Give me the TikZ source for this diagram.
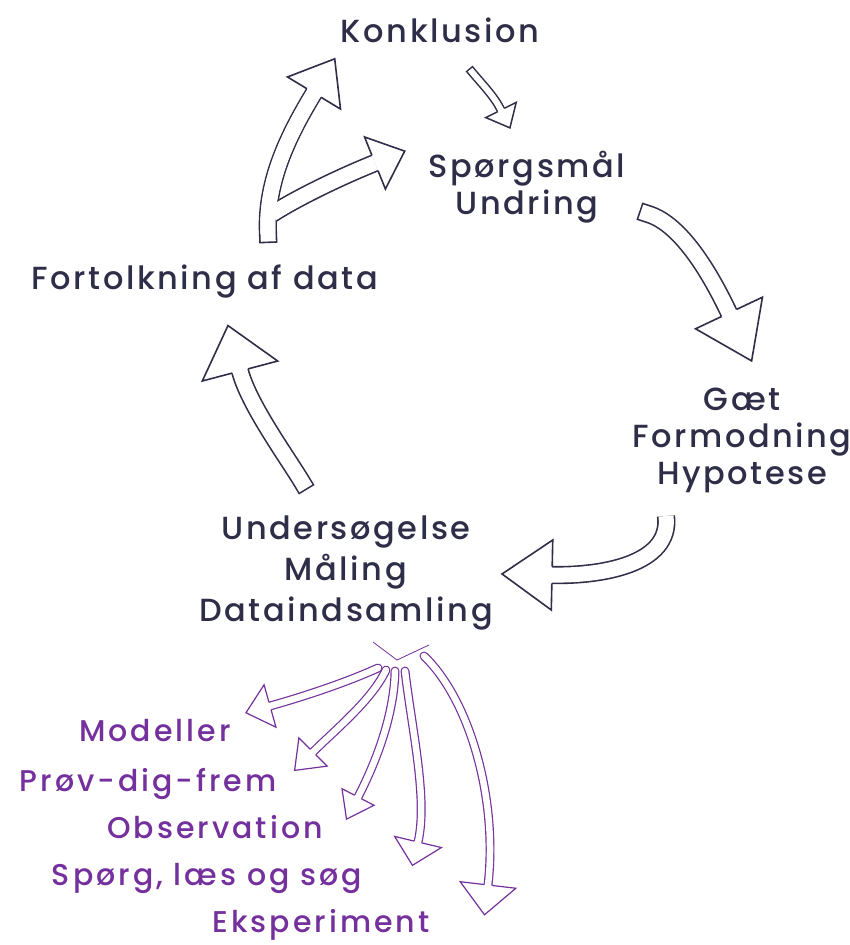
\documentclass[tikz,border=0pt]{standalone}
\usepackage{fontspec}
\IfFontExistsTF{Poppins Medium}{\setmainfont{Poppins Medium}}{\setmainfont{Poppins}[FakeBold=1.2]}
\usepackage{tikz}
\usetikzlibrary{decorations.markings}

\definecolor{ink}{HTML}{2F2E48}
\definecolor{plum}{HTML}{74309C}

\tikzset{
  block-arrow/.style n args={6}{% colour, shaft width, head length, head half width, line width, cap
    preaction={draw=#1, line width=#2+2*#5, line cap=#6},
    draw=white, line width=#2, line cap=#6,
    postaction={decorate, decoration={markings, mark=at position 0.9999 with {
      \fill[white] (0pt,#2/2+#5) -- (0pt,#4) -- (#3,0pt) -- (0pt,-#4) -- (0pt,-#2/2-#5) -- cycle;
      \draw[#1, line width=#5, line cap=butt] (0pt,#2/2+#5/2) -- (0pt,#4) -- (#3,0pt) -- (0pt,-#4) -- (0pt,-#2/2-#5/2);
    }}}
  }
}

\begin{document}
\begin{tikzpicture}[x=1pt, y=-1pt,
        cycle-node/.style={text=ink, font=\fontsize{32}{37}\selectfont\addfontfeatures{LetterSpace=8}, align=center, inner sep=0pt},
        method-node/.style={text=plum, font=\fontsize{30}{32}\selectfont\addfontfeatures{LetterSpace=10}, anchor=base, inner sep=0pt},
        cycle-arrow/.style 2 args={block-arrow={ink}{15pt}{#1}{#2}{1.6pt}{rect}},
        method-arrow/.style 2 args={block-arrow={plum}{6.5pt}{#1}{#2}{1.2pt}{round}},
        core-only/.style={draw=white, line width=15pt}
    ]
        \useasboundingbox[fill=white] (0,0) rectangle (850,945);

        \node[cycle-node] (konkl)   at (440,30)  {Konklusion};
        \node[cycle-node] (spoerg)  at (527,187) {Spørgsmål\\Undring};
        \node[cycle-node] (gaet)    at (742,440) {Gæt\\Formodning\\Hypotese};
        \node[cycle-node] (unders)  at (346,573) {Undersøgelse\\[4pt]Måling\\[4pt]Dataindsamling};
        \node[cycle-node] (fortolk) at (205,281) {Fortolkning af data};

        \node[method-node] (model) at (155,741) {Modeller};
        \node[method-node] (proev) at (148,791) {Prøv-dig-frem};
        \node[method-node] (obs)   at (215,838) {Observation};
        \node[method-node] (laes)  at (207,885) {Spørg, læs og søg};
        \node[method-node] (eksp)  at (321,932) {Eksperiment};

        \coordinate (k-tail) at (472,72);   \coordinate (k-head) at (501,110);
        \coordinate (f-tail) at (268,234);  \coordinate (f-up)   at (314,93);
        \coordinate (f-split) at (272,214); \coordinate (f-right) at (375,163);
        \coordinate (s-tail) at (648,214);  \coordinate (s-head) at (729,313);
        \coordinate (g-tail) at (666,516);  \coordinate (g-head) at (552,575);
        \coordinate (u-tail) at (302,482);  \coordinate (u-head) at (240,371);

        \draw[block-arrow={ink}{6pt}{20pt}{17pt}{1.5pt}{rect}]
            (k-tail) .. controls (482,84) and (494,96) .. (k-head);
        \draw[cycle-arrow={40pt}{31pt}] (f-tail) .. controls (265,180) and (291,131) .. (f-up);
        \draw[block-arrow={ink}{15pt}{32pt}{28pt}{1.6pt}{butt}] (f-split) .. controls (300,196) and (345,175) .. (f-right);
        \draw[core-only] (f-tail) .. controls (265,180) and (291,131) .. (f-up);
        \draw[cycle-arrow={53pt}{37pt}] (s-tail) .. controls (682,224) and (712,277) .. (s-head);
        \draw[block-arrow={ink}{15pt}{50pt}{35pt}{1.6pt}{butt}] (g-tail) .. controls (672,565) and (600,576) .. (g-head);
        \draw[cycle-arrow={47pt}{39pt}] (u-tail) .. controls (287,457) and (249,405) .. (u-head);

        \coordinate (fan)   at (397,660);
        \coordinate (fan-l) at (373,642);
        \coordinate (fan-r) at (429,645);
        \draw[plum, line width=0.8pt] (fan-l) -- (fan) -- (fan-r);

        \draw[method-arrow={25pt}{22pt}] (378,668) .. controls (345,683) and (302,697) .. (270,706);
        \draw[method-arrow={26pt}{20pt}] (386,670) .. controls (372,700) and (335,730) .. (313,752);
        \draw[method-arrow={25pt}{18pt}] (395,671) .. controls (394,720) and (372,770) .. (358,797);
        \draw[method-arrow={24pt}{24pt}] (405,671) .. controls (412,730) and (428,800) .. (418,842);
        \draw[method-arrow={30pt}{28pt}] (424,656) .. controls (470,700) and (498,800) .. (488,885);
    \end{tikzpicture}
\end{document}
